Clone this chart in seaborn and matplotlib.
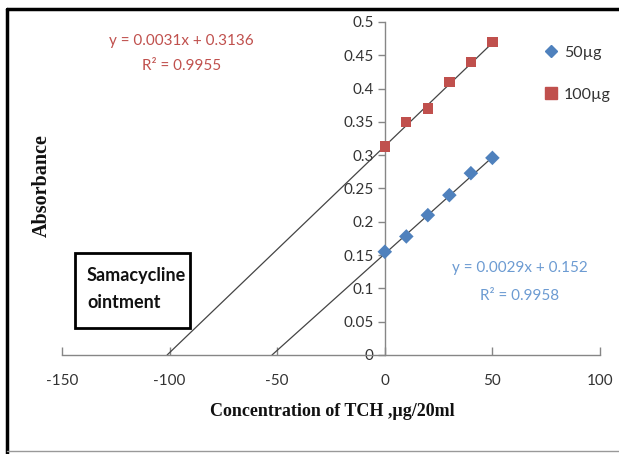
import numpy as np
import pandas as pd
import matplotlib
matplotlib.use("Agg")
import matplotlib.pyplot as plt
import seaborn as sns
from matplotlib.patches import Rectangle
from matplotlib.lines import Line2D

# ---- data ----
conc = [0, 10, 20, 30, 40, 50]
abs_50 = [0.155, 0.178, 0.210, 0.240, 0.273, 0.296]
abs_100 = [0.313, 0.350, 0.370, 0.410, 0.440, 0.470]
series_names = ["50µg", "100µg"]
slope_50, icept_50 = 0.0029, 0.152
slope_100, icept_100 = 0.0031, 0.3136
eq_50 = ["y = 0.0029x + 0.152", "R² = 0.9958"]
eq_100 = ["y = 0.0031x + 0.3136", "R² = 0.9955"]
x_ticks = [-150, -100, -50, 0, 50, 100]
y_ticks = [0, 0.05, 0.1, 0.15, 0.2, 0.25, 0.3, 0.35, 0.4, 0.45, 0.5]

df = pd.DataFrame({
    "conc": conc * 2,
    "abs": abs_50 + abs_100,
    "series": [series_names[0]] * len(conc) + [series_names[1]] * len(conc),
})

sns.set_theme(style="white")
plt.rcParams['font.family'] = ['Lato', 'DejaVu Sans']

W, H = 619, 454
fig = plt.figure(figsize=(W / 100, H / 100), dpi=100)
ax = fig.add_axes([62 / W, 1 - 355 / H, (600 - 62) / W, (355 - 22) / H])

blue = "#4F81BD"
red = "#C0504D"
axis_gray = "#868686"

# trend lines (extended back to x-intercept)
for m, b in [(slope_50, icept_50), (slope_100, icept_100)]:
    x0 = -b / m
    xs = np.array([x0, conc[-1]])
    ax.plot(xs, m * xs + b, color="#444444", lw=0.9, zorder=2)

sns.scatterplot(data=df, x="conc", y="abs", hue="series", style="series",
                markers={series_names[0]: "D", series_names[1]: "s"},
                palette={series_names[0]: blue, series_names[1]: red},
                s=55, linewidth=0.3, edgecolor="none", ax=ax, zorder=3, legend=False)

ax.set_xlim(-150, 100)
ax.set_ylim(0, 0.5)
ax.set_xticks(x_ticks)
ax.set_xticklabels([str(v) for v in x_ticks])
ax.set_yticks(y_ticks)
ax.set_yticklabels(["0"] + [f"{v:g}" for v in y_ticks[1:]])

for s in ["top", "right"]:
    ax.spines[s].set_visible(False)
ax.spines["left"].set_position(("data", 0))
ax.spines["bottom"].set_position(("data", 0))
for s in ["left", "bottom"]:
    ax.spines[s].set_color(axis_gray)
    ax.spines[s].set_linewidth(1.0)
ax.tick_params(axis="x", direction="in", length=6, color=axis_gray, width=1,
               labelsize=11, labelcolor="#333333", pad=14, bottom=True)
ax.tick_params(axis="y", direction="out", length=5, color=axis_gray, width=1,
               labelsize=11, labelcolor="#333333", pad=3, left=True)
ax.grid(False)
ax.set_xlabel("")
ax.set_ylabel("")

# axis titles
fig.text(332 / W, 1 - 412 / H, "Concentration of TCH ,µg/20ml",
         family="Liberation Serif", fontweight="bold", fontsize=13,
         ha="center", va="center", color="#111111")
fig.text(42 / W, 1 - 186 / H, "Absorbance", family="Liberation Serif",
         fontweight="bold", fontsize=14.5, rotation=90,
         ha="center", va="center", color="#111111")

# equations
fig.text(181 / W, 1 - 41 / H, eq_100[0], color=red, fontsize=11, ha="center", va="center")
fig.text(182 / W, 1 - 66 / H, eq_100[1], color=red, fontsize=11, ha="center", va="center")
fig.text(520 / W, 1 - 268 / H, eq_50[0], color="#6C9BD2", fontsize=11, ha="center", va="center")
fig.text(520 / W, 1 - 296 / H, eq_50[1], color="#6C9BD2", fontsize=11, ha="center", va="center")

# legend
handles = [Line2D([], [], marker="D", ls="none", color=blue, markersize=6),
           Line2D([], [], marker="s", ls="none", color=red, markersize=8)]
fig.legend(handles, series_names, loc="upper left", bbox_to_anchor=(527 / W, 1 - 31 / H),
           frameon=False, fontsize=11.5, labelspacing=1.75, handletextpad=0.2,
           handlelength=1.2, labelcolor="#333333")

# annotation box
fig.patches.append(Rectangle((75 / W, 1 - 328 / H), (190 - 75) / W, (328 - 253) / H,
                             transform=fig.transFigure, fill=False, ec="black", lw=2))
fig.text(87 / W, 1 - 275 / H, "Samacycline", fontsize=13, fontweight="bold",
         ha="left", va="center", color="#111111")
fig.text(87 / W, 1 - 302 / H, "ointment", fontsize=13, fontweight="bold",
         ha="left", va="center", color="#111111")

# outer frame
fig.add_artist(Line2D([7 / W, 1], [1 - 9 / H, 1 - 9 / H], transform=fig.transFigure, color="black", lw=2.5))
fig.add_artist(Line2D([7 / W, 7 / W], [0, 1 - 9 / H], transform=fig.transFigure, color="black", lw=2.5))
fig.add_artist(Line2D([7 / W, 1], [1 - 451 / H, 1 - 451 / H], transform=fig.transFigure, color="#999999", lw=1))

fig.savefig("out.png", dpi=100)
